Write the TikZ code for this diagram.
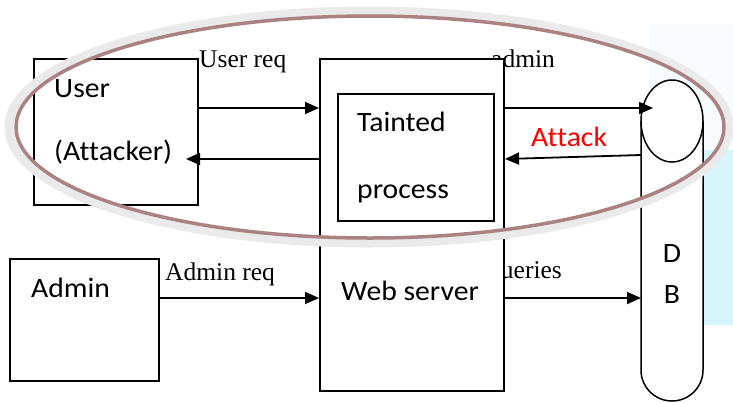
\documentclass[tikz,border=0pt]{standalone}
\usepackage{fontspec}
\setmainfont{Liberation Serif}
\newfontfamily\calibfont[FakeStretch=1.06,Ligatures=NoCommon]{Carlito}
\usetikzlibrary{arrows.meta,shapes.geometric}
\definecolor{ringgray}{RGB}{234,234,234}
\definecolor{ringbrown}{RGB}{170,130,130}
\definecolor{bglight}{RGB}{246,252,254}
\definecolor{bgcyan}{RGB}{216,245,251}
\begin{document}
\begin{tikzpicture}[x=1pt,y=-1pt,
  box/.style={draw, line width=1.6pt, fill=white, inner sep=0pt, anchor=north west},
  arr/.style={line width=1.8pt, -{Triangle[length=14pt,width=12pt]}},
  sanslbl/.style={font=\calibfont\fontsize{28}{32}\selectfont, inner sep=0pt, anchor=base west},
  seriflbl/.style={font=\fontsize{25.5}{30}\selectfont, inner sep=0pt, anchor=base west}]
\useasboundingbox (0,0) rectangle (733,402);
% faint background at right
\fill[bglight] (650,25) rectangle (733,150);
\fill[bgcyan] (703,150) rectangle (733,325);
% labels partly hidden behind the web server box
\node[seriflbl] (ladmin) at (491,67) {admin};
\node[seriflbl] (lqueries) at (488,278) {queries};
% boxes
\node[box, minimum width=164pt, minimum height=146pt] (user) at (33,58) {};
\node[box, minimum width=149pt, minimum height=122pt] (admin) at (9,258) {};
\node[box, minimum width=184pt, minimum height=332pt] (web) at (319,58) {};
\node[box, minimum width=156pt, minimum height=127pt] (taint) at (337,93) {};
% box texts
\node[sanslbl] (tuser) at (54,97) {User};
\node[sanslbl] (tatt) at (54,160) {(Attacker)};
\node[sanslbl] (ttaint) at (357,131) {Tainted};
\node[sanslbl] (tproc) at (357,198) {process};
\node[sanslbl] (tadmin) at (31,297) {Admin};
\node[sanslbl] (tweb) at (341,300) {Web server};
% DB
\draw[line width=1.5pt, fill=white] (641,121) -- (641,370)
  arc[start angle=180, end angle=360, x radius=31pt, y radius=31pt] -- (703,121);
\node[draw, ellipse, line width=1.5pt, fill=white, inner sep=0pt,
  minimum width=62pt, minimum height=82pt] (dbtop) at (672,121) {};
\coordinate (dbin) at (653,108);
\coordinate (dbatt) at (641,155);
\coordinate (dbq) at (641,298);
\node[sanslbl, anchor=base] (tD) at (672,262) {D};
\node[sanslbl, anchor=base] (tB) at (672,303) {B};
% arrows
\draw[arr] (user.east |- 0,108) -- (web.west |- 0,108);
\draw[arr] (web.west |- 0,159) -- (186,159);
\draw[arr] (web.east |- 0,108) -- (dbin);
\draw[arr] (dbatt) -- (505,159);
\draw[arr] (admin.east |- 0,298) -- (web.west |- 0,298);
\draw[arr] (web.east |- 0,298) -- (dbq);
% arrow labels
\node[seriflbl] (luser) at (199,67) {User req};
\node[seriflbl] (ladminreq) at (165,280) {Admin req};
\node[sanslbl, text=red] (lattack) at (531,146) {Attack};
% highlight ring
\draw[ringgray, line width=9pt] (369,127) ellipse [x radius=360pt, y radius=116pt];
\draw[ringbrown, line width=3.5pt] (370,127) ellipse [x radius=354pt, y radius=111pt];
\end{tikzpicture}
\end{document}
